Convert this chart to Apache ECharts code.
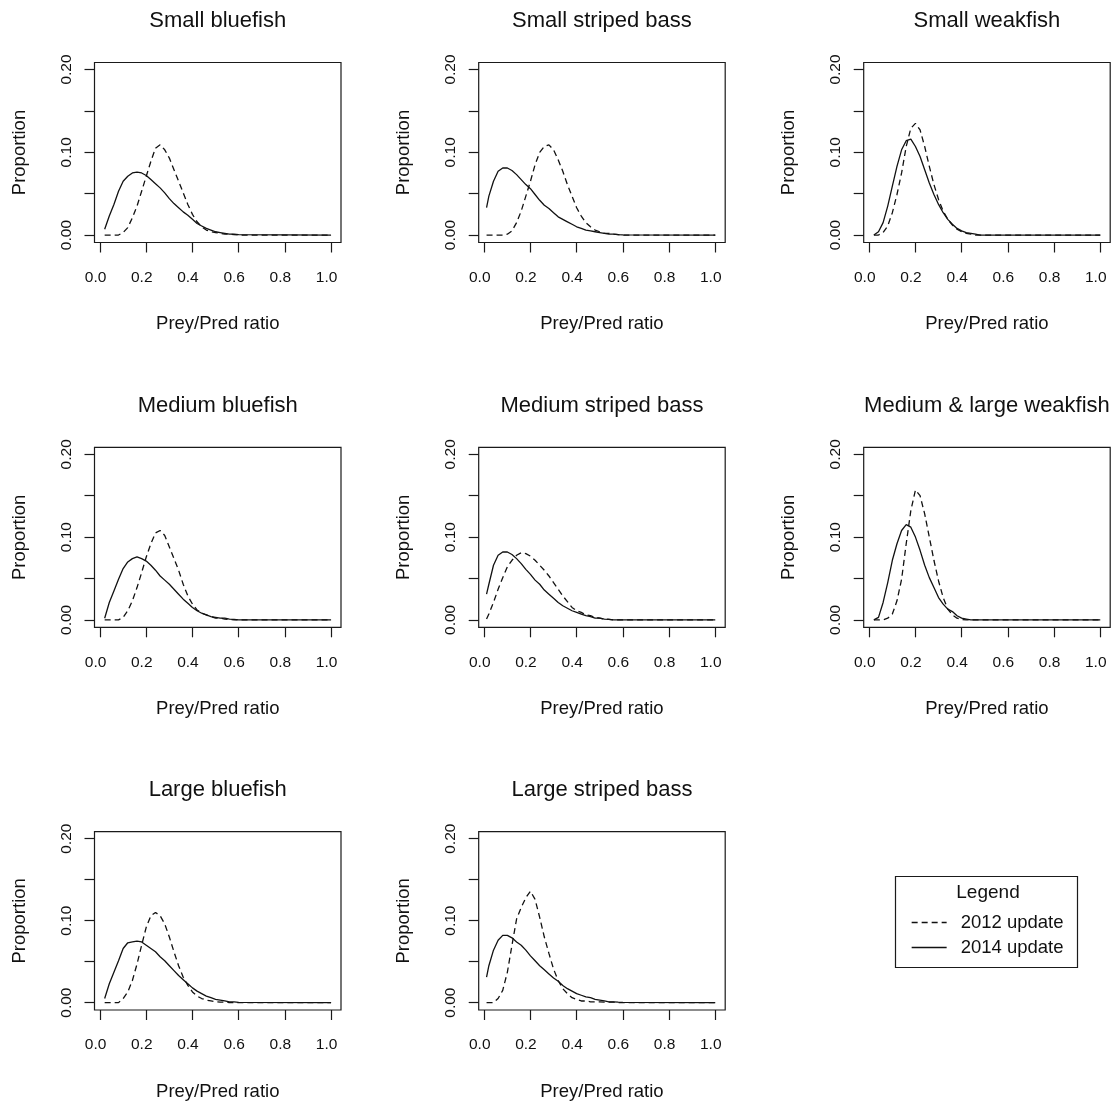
<!DOCTYPE html>
<html><head><meta charset="utf-8">
<script src="https://cdn.jsdelivr.net/npm/echarts@6/dist/echarts.min.js"></script>
<style>html,body{margin:0;padding:0;background:#fff}#c{width:1114px;height:1102px}</style>
</head><body><div id="c"></div>
<script>
// Shared x grid (Prey/Pred ratio)
const XS = [0.01,0.02,0.04,0.06,0.08,0.10,0.12,0.14,0.16,0.18,0.20,0.22,0.24,0.26,0.28,0.30,0.32,0.34,0.36,0.38,0.40,0.42,0.44,0.46,0.48,0.50,0.52,0.54,0.56,0.58,0.60,1.0];

const TITLES = ["Small bluefish","Small striped bass","Small weakfish","Medium bluefish","Medium striped bass","Medium & large weakfish","Large bluefish","Large striped bass"];
const SERIES_NAMES = ["2012 update","2014 update"];
const X_TICKS = [0,0.2,0.4,0.6,0.8,1.0];
const Y_TICKS = [0,0.05,0.10,0.15,0.20];
const Y_LABELS = [0,0.10,0.20];

const smallBluefish2012 = [null,0,0,0,0,0.003,0.009,0.021,0.035,0.053,0.071,0.089,0.105,0.109,0.103,0.093,0.079,0.065,0.051,0.037,0.025,0.016,0.010,0.006,0.004,0.003,0.002,0.001,0.001,0.0005,0,0];
const smallBluefish2014 = [null,0.007,0.023,0.037,0.053,0.065,0.071,0.075,0.076,0.075,0.072,0.067,0.062,0.057,0.051,0.044,0.038,0.033,0.028,0.024,0.019,0.014,0.011,0.008,0.006,0.004,0.003,0.002,0.001,0.001,0.0005,0];
const smallStriped2012 = [0,0,0,0,0,0.001,0.005,0.015,0.029,0.047,0.065,0.085,0.100,0.107,0.109,0.103,0.091,0.077,0.061,0.047,0.033,0.023,0.015,0.010,0.006,0.004,0.002,0.002,0.001,0.0005,0,0];
const smallStriped2014 = [0.033,0.047,0.065,0.077,0.081,0.081,0.078,0.073,0.067,0.061,0.056,0.049,0.042,0.036,0.032,0.027,0.022,0.019,0.016,0.013,0.010,0.008,0.006,0.005,0.004,0.003,0.002,0.001,0.001,0.0005,0.0003,0];
const smallWeakfish2012 = [null,0,0,0.003,0.011,0.027,0.049,0.075,0.107,0.129,0.135,0.127,0.107,0.083,0.061,0.043,0.029,0.019,0.012,0.007,0.004,0.002,0.001,0,0,0,0,0,0,0,0,0];
const smallWeakfish2014 = [null,0,0.004,0.015,0.035,0.059,0.083,0.103,0.114,0.116,0.107,0.095,0.079,0.063,0.049,0.037,0.027,0.019,0.013,0.008,0.005,0.003,0.002,0.001,0,0,0,0,0,0,0,0];
const mediumBluefish2012 = [null,0,0,0,0,0.003,0.011,0.023,0.039,0.057,0.076,0.092,0.105,0.108,0.102,0.088,0.074,0.060,0.043,0.029,0.019,0.012,0.008,0.006,0.004,0.002,0.002,0.001,0.0004,0,0,0];
const mediumBluefish2014 = [null,0.002,0.021,0.035,0.049,0.062,0.070,0.074,0.076,0.074,0.071,0.066,0.060,0.053,0.048,0.043,0.037,0.031,0.025,0.020,0.015,0.011,0.008,0.006,0.004,0.003,0.002,0.002,0.001,0.0005,0,0];
const mediumStriped2012 = [0.001,0.007,0.021,0.037,0.051,0.064,0.072,0.078,0.081,0.080,0.077,0.072,0.066,0.060,0.053,0.045,0.037,0.029,0.022,0.015,0.011,0.009,0.006,0.005,0.003,0.002,0.001,0.0005,0,0,0,0];
const mediumStriped2014 = [0.031,0.043,0.066,0.078,0.082,0.082,0.079,0.074,0.068,0.061,0.055,0.048,0.043,0.036,0.031,0.026,0.021,0.017,0.014,0.011,0.009,0.007,0.005,0.004,0.002,0.002,0.001,0.0005,0,0,0,0];
const medLargeWeakfish2012 = [null,0,0,0,0.002,0.007,0.023,0.049,0.092,0.132,0.157,0.150,0.128,0.100,0.072,0.047,0.027,0.013,0.006,0.002,0.0004,0,0,0,0,0,0,0,0,0,0,0];
const medLargeWeakfish2014 = [null,0,0.003,0.021,0.045,0.072,0.092,0.108,0.115,0.112,0.100,0.084,0.066,0.051,0.039,0.027,0.019,0.013,0.010,0.005,0.002,0.001,0,0,0,0,0,0,0,0,0,0];
const largeBluefish2012 = [null,0,0,0,0,0.005,0.013,0.027,0.047,0.070,0.092,0.106,0.110,0.106,0.096,0.080,0.062,0.045,0.031,0.021,0.013,0.008,0.005,0.003,0.002,0.001,0.0005,0.0005,0,0,0,0];
const largeBluefish2014 = [null,0.005,0.023,0.037,0.051,0.066,0.073,0.074,0.075,0.074,0.070,0.066,0.062,0.056,0.051,0.045,0.039,0.033,0.028,0.023,0.018,0.014,0.011,0.008,0.006,0.004,0.003,0.002,0.001,0.001,0.0004,0];
const largeStriped2012 = [0,0,0,0.005,0.015,0.037,0.070,0.102,0.116,0.128,0.136,0.126,0.104,0.080,0.060,0.041,0.027,0.017,0.011,0.006,0.004,0.002,0.002,0.001,0.001,0.001,0.0005,0.0005,0.0005,0,0,0];
const largeStriped2014 = [0.031,0.045,0.064,0.076,0.082,0.082,0.079,0.074,0.070,0.064,0.057,0.051,0.045,0.040,0.035,0.030,0.026,0.021,0.017,0.014,0.011,0.009,0.007,0.006,0.004,0.003,0.002,0.001,0.001,0.0005,0.0003,0];

const PANEL_DATA = [
  [smallBluefish2012, smallBluefish2014],
  [smallStriped2012, smallStriped2014],
  [smallWeakfish2012, smallWeakfish2014],
  [mediumBluefish2012, mediumBluefish2014],
  [mediumStriped2012, mediumStriped2014],
  [medLargeWeakfish2012, medLargeWeakfish2014],
  [largeBluefish2012, largeBluefish2014],
  [largeStriped2012, largeStriped2014]
];

const FONT = "'Liberation Sans', Arial, sans-serif";
const INK = '#111';
const COL_LEFT = [94.5, 478.7, 863.7];
const ROW_TOP = [62.5, 447.3, 831.7];
const PW = 246.5, PH = 180;

const grid = [], xAxis = [], yAxis = [], series = [], graphic = [];
TITLES.forEach((t, i) => {
  const r = Math.floor(i / 3), c = i % 3;
  grid.push({left: COL_LEFT[c], top: ROW_TOP[r], width: PW, height: PH, show: true,
    borderColor: '#1a1a1a', borderWidth: 1.2, backgroundColor: 'transparent'});
  xAxis.push({type: 'value', gridIndex: i, min: -0.024, max: 1.043,
    axisLine: {show: false, onZero: false}, splitLine: {show: false},
    axisTick: {show: true, inside: false, length: 10, customValues: X_TICKS, lineStyle: {color: '#1a1a1a', width: 1.2}},
    axisLabel: {customValues: X_TICKS, formatter: v => v.toFixed(1), margin: 27, fontSize: 15.5, fontFamily: FONT, color: INK, padding: [0, 9, 0, 0]},
    name: 'Prey/Pred ratio', nameLocation: 'middle', nameGap: 72,
    nameTextStyle: {fontSize: 18.5, fontFamily: FONT, color: INK}});
  yAxis.push({type: 'value', gridIndex: i, min: -0.009, max: 0.2085,
    axisLine: {show: false, onZero: false}, splitLine: {show: false},
    axisTick: {show: true, inside: false, length: 10, customValues: Y_TICKS, lineStyle: {color: '#1a1a1a', width: 1.2}},
    axisLabel: {customValues: Y_LABELS, rotate: 90, formatter: v => v.toFixed(2), margin: 20, fontSize: 15.5, fontFamily: FONT, color: INK},
    name: 'Proportion', nameLocation: 'middle', nameGap: 65, nameRotate: 90,
    nameTextStyle: {fontSize: 18.5, fontFamily: FONT, color: INK}});
  graphic.push({type: 'text', x: COL_LEFT[c] + PW / 2, y: ROW_TOP[r] - 41.5,
    style: {text: t, fontSize: 22, fontFamily: FONT, fill: INK, textAlign: 'center', textVerticalAlign: 'middle'}});
  PANEL_DATA[i].forEach((arr, k) => {
    const pts = [];
    XS.forEach((x, j) => { if (arr[j] !== null) pts.push([x, arr[j]]); });
    series.push({type: 'line', name: SERIES_NAMES[k], xAxisIndex: i, yAxisIndex: i, data: pts,
      symbol: 'none', showSymbol: false, silent: true, animation: false,
      itemStyle: {color: INK},
      lineStyle: {color: INK, width: 1.3, type: k === 0 ? [6, 4] : 'solid'}});
  });
});

graphic.push({type: 'rect', shape: {x: 895.5, y: 876.5, width: 182, height: 91},
  style: {fill: 'none', stroke: '#1a1a1a', lineWidth: 1.2}});
graphic.push({type: 'text', x: 988, y: 893,
  style: {text: 'Legend', fontSize: 19, fontFamily: FONT, fill: INK, textAlign: 'center', textVerticalAlign: 'middle'}});

const chart = echarts.init(document.getElementById('c'), null, {renderer: 'canvas'});
chart.setOption({
  animation: false,
  backgroundColor: '#fff',
  grid, xAxis, yAxis, series, graphic,
  legend: {data: SERIES_NAMES, orient: 'vertical', left: 911, top: 913, itemWidth: 35, itemHeight: 14, itemGap: 6,
    padding: 0, selectedMode: false,
    itemStyle: {color: 'rgba(0,0,0,0)', borderWidth: 0, opacity: 0},
    lineStyle: {width: 1.3},
    textStyle: {fontSize: 18.5, fontFamily: FONT, color: INK, padding: [0, 0, 0, 9]}}
});
</script></body></html>
